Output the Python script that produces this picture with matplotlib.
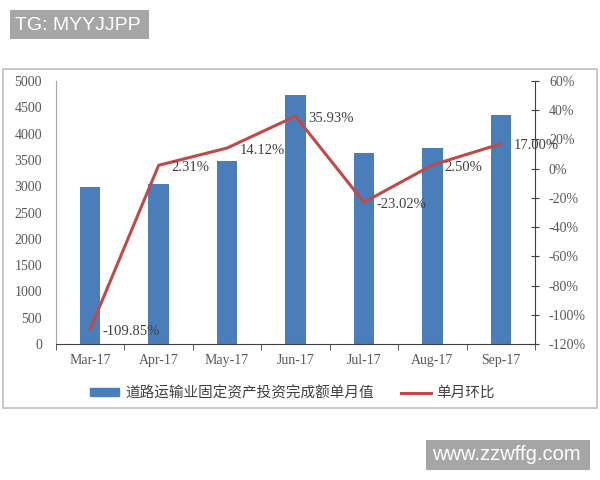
import matplotlib
matplotlib.use("Agg")
import matplotlib.pyplot as plt
from matplotlib.patches import Rectangle, Patch
from matplotlib.lines import Line2D
import numpy as np

months = ["Mar-17", "Apr-17", "May-17", "Jun-17", "Jul-17", "Aug-17", "Sep-17"]
values = [2980, 3050, 3480, 4730, 3640, 3730, 4360]
mom = [-109.85, 2.31, 14.12, 35.93, -23.02, 2.50, 17.00]
mom_labels = ["-109.85%", "2.31%", "14.12%", "35.93%", "-23.02%", "2.50%", "17.00%"]
left_ticks = [0, 500, 1000, 1500, 2000, 2500, 3000, 3500, 4000, 4500, 5000]
right_ticks = [-120, -100, -80, -60, -40, -20, 0, 20, 40, 60]
bar_name = "道路运输业固定资产投资完成额单月值"
line_name = "单月环比"

serif = ["Liberation Serif", "DejaVu Serif"]
cjk = ["Noto Sans CJK SC", "DejaVu Sans"]
tick_color = "#595959"
bar_color = "#4A7EBB"
line_color = "#BE4B48"

fig = plt.figure(figsize=(6, 4.8), dpi=100)
fig.patch.set_facecolor("white")

# outer chart frame
fig.patches.append(Rectangle((3/600, 1-408/480), 594/600, 339/480, transform=fig.transFigure,
                             fill=False, edgecolor="#BFBFBF", linewidth=1.2))

ax = fig.add_axes([56/600, 1-344/480, 479/600, 263/480])
x = np.arange(len(months))
ax.bar(x, values, width=0.3, color=bar_color, zorder=2)
ax.set_xlim(-0.5, len(months)-0.5)
ax.set_ylim(0, 5000)
ax.set_yticks(left_ticks)
ax.set_yticklabels([str(v) for v in left_ticks], fontfamily=serif, fontsize=10, color=tick_color)
ax.tick_params(axis="y", length=0, pad=10)
ax.set_xticks(x)
ax.set_xticklabels(months, fontfamily=serif, fontsize=10, color=tick_color)
ax.tick_params(axis="x", which="major", length=0, pad=7)
ax.set_xticks(np.arange(-0.5, len(months)), minor=True)
ax.tick_params(axis="x", which="minor", length=4, direction="out", color="#404040")
for s in ["top", "right"]:
    ax.spines[s].set_visible(False)
ax.spines["left"].set_color("#A6A6A6")
ax.spines["bottom"].set_color("#404040")

ax2 = ax.twinx()
ax2.plot(x, mom, color=line_color, linewidth=2.2, zorder=3)
ax2.set_ylim(-120, 60)
ax2.set_yticks(right_ticks)
ax2.set_yticklabels([f"{v}%" for v in right_ticks], fontfamily=serif, fontsize=10, color=tick_color)
ax2.tick_params(axis="y", length=6, direction="inout", color="#404040", pad=7)
for s in ["top", "left", "bottom"]:
    ax2.spines[s].set_visible(False)
ax2.spines["right"].set_color("#404040")

for xi, yi, lab in zip(x, mom, mom_labels):
    ax2.annotate(lab, (xi, yi), xytext=(9, -1.5), textcoords="offset points",
                 ha="left", va="center", fontfamily=serif, fontsize=10.5, color="#404040", zorder=4)

handles = [Patch(facecolor=bar_color, edgecolor=bar_color),
           Line2D([0], [0], color=line_color, linewidth=2.2)]
fig.legend(handles, [bar_name, line_name], loc="center", bbox_to_anchor=(0.4875, 1-393/480),
           ncol=2, frameon=False, prop={"family": cjk, "size": 10.5}, labelcolor="#404040",
           handlelength=2.0, handleheight=0.5, columnspacing=1.9, handletextpad=0.4)

# watermarks
fig.patches.append(Rectangle((10/600, 1-39/480), 139/600, 29/480, transform=fig.transFigure,
                             facecolor="#A6A6A6", edgecolor="none"))
fig.text(15/600, 1-25/480, "TG: MYYJJPP", fontsize=14, color="white", family="Liberation Sans",
         va="center", ha="left")
fig.patches.append(Rectangle((426/600, 1-470/480), 164/600, 30/480, transform=fig.transFigure,
                             facecolor="#A6A6A6", edgecolor="none"))
fig.text(432/600, 1-455/480, "www.zzwffg.com", fontsize=14.5, color="white", family="Liberation Sans",
         va="center", ha="left")

fig.savefig("out.png", dpi=100)
